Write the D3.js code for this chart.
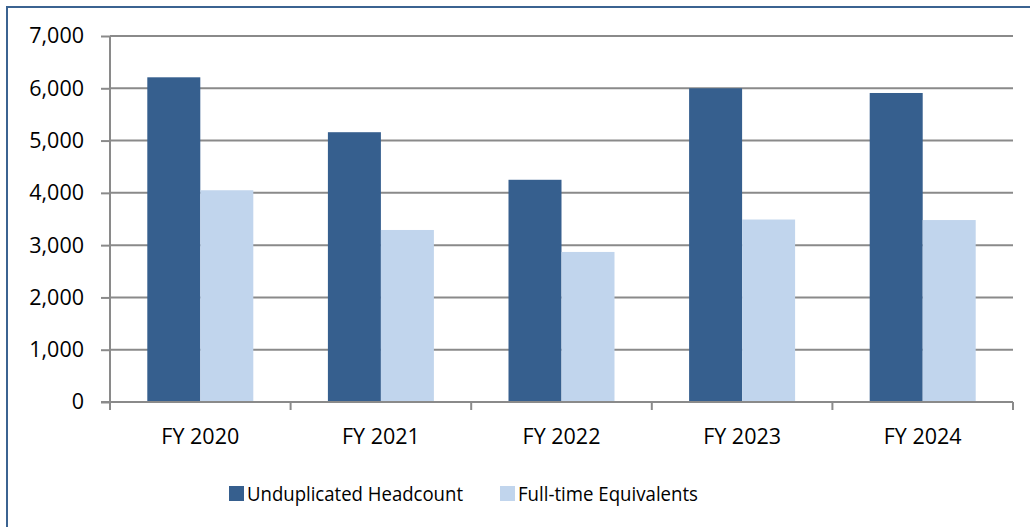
<!DOCTYPE html>
<html lang="en">
<head>
<meta charset="UTF-8">
<title>Headcount and FTE</title>
<script src="https://d3js.org/d3.v7.min.js"></script>
<style>
  body { margin: 0; background: #fff; }
  svg { display: block; }
  svg text { font-family: "Open Sans", "DejaVu Sans", sans-serif; }
</style>
</head>
<body>
<svg id="chart" width="1030" height="527"></svg>
<script>
// chart data
var years = ["FY 2020", "FY 2021", "FY 2022", "FY 2023", "FY 2024"];
var headcount = [6210, 5160, 4250, 6000, 5910];
var fte = [4050, 3290, 2870, 3490, 3480];
var seriesNames = ["Unduplicated Headcount", "Full-time Equivalents"];
var seriesColors = ["#365f8e", "#c1d5ed"];
var yTicks = [0, 1000, 2000, 3000, 4000, 5000, 6000, 7000];

var svg = d3.select("#chart");

// outer frame (clipped at right and bottom like the source)
svg.append("rect")
    .attr("x", 7).attr("y", 7)
    .attr("width", 1040).attr("height", 540)
    .attr("fill", "none")
    .attr("stroke", "#3b6391")
    .attr("stroke-width", 2);

var plotLeft = 110, plotRight = 1013, plotTop = 36, plotBottom = 402;

var x = d3.scaleBand().domain(years).range([plotLeft, plotRight]);
var inner = d3.scaleBand().domain([0, 1]).range([0, 106]);
var y = d3.scaleLinear().domain([0, 7000]).range([plotBottom, plotTop]);

// gridlines
svg.append("g")
    .selectAll("line")
    .data(yTicks.filter(function(d) { return d > 0; }))
    .join("line")
    .attr("x1", plotLeft).attr("x2", plotRight)
    .attr("y1", function(d) { return y(d); })
    .attr("y2", function(d) { return y(d); })
    .attr("stroke", "#8a8a8a")
    .attr("stroke-width", 2);

// bars
var rows = years.map(function(yr, i) { return { year: yr, vals: [headcount[i], fte[i]] }; });
var groups = svg.append("g").selectAll("g")
    .data(rows)
    .join("g")
    .attr("transform", function(d) { return "translate(" + (x(d.year) + (x.bandwidth() - 106) / 2) + ",0)"; });

groups.selectAll("rect")
    .data(function(d) { return d.vals.map(function(v, k) { return { v: v, k: k }; }); })
    .join("rect")
    .attr("x", function(d) { return inner(d.k); })
    .attr("width", inner.bandwidth())
    .attr("y", function(d) { return y(d.v); })
    .attr("height", function(d) { return plotBottom - y(d.v); })
    .attr("fill", function(d) { return seriesColors[d.k]; });

// y axis
var yAxis = svg.append("g")
    .attr("transform", "translate(" + plotLeft + ",0)")
    .call(d3.axisLeft(y).tickValues(yTicks).tickSize(9).tickPadding(17).tickFormat(d3.format(",")));
yAxis.attr("font-family", null);
yAxis.select(".domain").attr("stroke", "#8a8a8a").attr("stroke-width", 2).attr("d", "M0," + plotTop + "V" + plotBottom);
yAxis.selectAll(".tick line").attr("stroke", "#8a8a8a").attr("stroke-width", 2);
yAxis.selectAll("text").attr("font-size", 21.5).attr("fill", "#000");

// x axis
var xAxis = svg.append("g")
    .attr("transform", "translate(0," + plotBottom + ")")
    .call(d3.axisBottom(x).tickSize(0).tickPadding(27));
xAxis.attr("font-family", null);
xAxis.select(".domain").remove();
xAxis.selectAll("text").attr("font-size", 21.5).attr("fill", "#000");
svg.append("line")
    .attr("x1", plotLeft - 9).attr("x2", plotRight)
    .attr("y1", plotBottom).attr("y2", plotBottom)
    .attr("stroke", "#8a8a8a").attr("stroke-width", 2);
// category separators
var seps = years.map(function(yr) { return x(yr); }).concat([plotRight]);
svg.append("g").selectAll("line")
    .data(seps)
    .join("line")
    .attr("x1", function(d) { return d; }).attr("x2", function(d) { return d; })
    .attr("y1", plotBottom).attr("y2", plotBottom + 8)
    .attr("stroke", "#8a8a8a").attr("stroke-width", 2);

// legend
var legendX = [229, 500];
var legend = svg.append("g").selectAll("g")
    .data(seriesNames)
    .join("g")
    .attr("transform", function(d, i) { return "translate(" + legendX[i] + ",486)"; });
legend.append("rect")
    .attr("width", 15).attr("height", 15)
    .attr("fill", function(d, i) { return seriesColors[i]; });
legend.append("text")
    .attr("x", 18).attr("y", 15)
    .attr("font-size", 19.5)
    .attr("fill", "#000")
    .attr("textLength", function(d, i) { return i === 0 ? 216 : 180; })
    .attr("lengthAdjust", "spacingAndGlyphs")
    .text(function(d) { return d; });
</script>
</body>
</html>
